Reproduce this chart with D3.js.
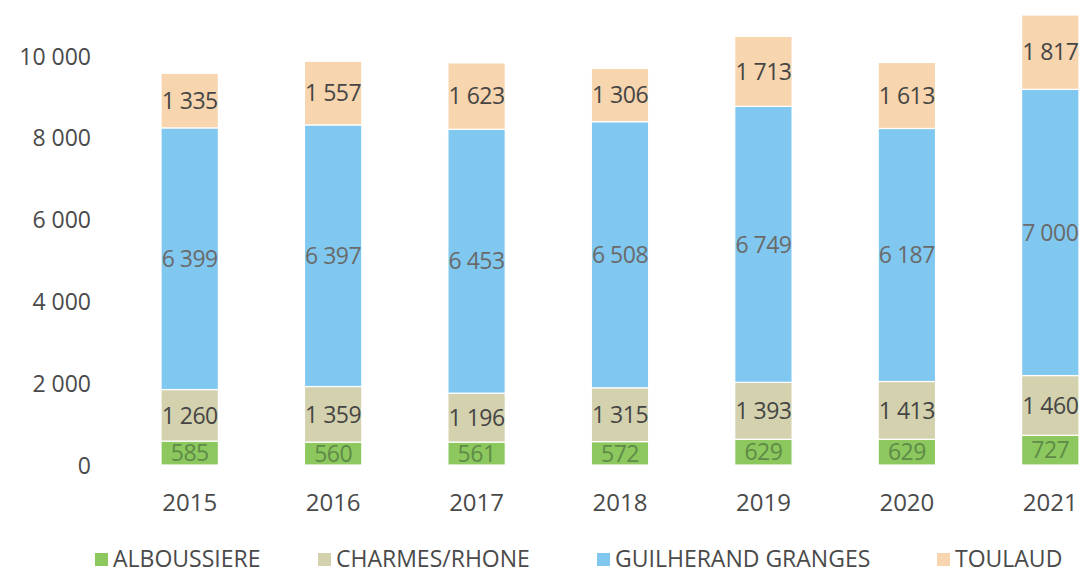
<!DOCTYPE html>
<html><head><meta charset="utf-8">
<script src="https://cdn.jsdelivr.net/npm/d3@7"></script>
<style>body{margin:0;background:#fff}svg{display:block}</style>
</head><body>
<svg id="c" width="1089" height="575"></svg>
<script>
const years = ["2015","2016","2017","2018","2019","2020","2021"];
const seriesNames = ["ALBOUSSIERE","CHARMES/RHONE","GUILHERAND GRANGES","TOULAUD"];
const alboussiere = [585,560,561,572,629,629,727];
const charmes = [1260,1359,1196,1315,1393,1413,1460];
const guilherand = [6399,6397,6453,6508,6749,6187,7000];
const toulaud = [1335,1557,1623,1306,1713,1613,1817];
const yTicks = [0,2000,4000,6000,8000,10000];
const colors = ["#8cc85e","#d4d2ae","#80c8f0","#f7d5ae"];
const labelColors = ["#5f8a48","#454545","#6a6a6a","#454545"];

const rows = years.map((y,i)=>({year:y,
  [seriesNames[0]]:alboussiere[i],[seriesNames[1]]:charmes[i],
  [seriesNames[2]]:guilherand[i],[seriesNames[3]]:toulaud[i]}));
const stack = d3.stack().keys(seriesNames)(rows);

const svg = d3.select("#c");
const font = "'Open Sans', sans-serif";
const x = d3.scaleBand().domain(years).range([118,1122]).paddingInner(0.6).paddingOuter(0.3);
const y = d3.scaleLinear().domain([0,11004]).range([465,15]);
const fmt = v => d3.format(",")(v).replace(/,/g," ");

// y axis labels
const ya = svg.append("g").attr("transform","translate(91,0)")
  .call(d3.axisLeft(y).tickValues(yTicks).tickSize(0).tickPadding(0).tickFormat(fmt));
ya.select(".domain").remove();
ya.selectAll("text").attr("font-family",font).attr("font-size",23).attr("fill","#4a4a4a").attr("dy","0.35em");

// bars
const g = svg.append("g");
stack.forEach((s,si)=>{
  g.selectAll(null).data(s).join("rect")
    .attr("x",d=>x(d.data.year)).attr("width",x.bandwidth())
    .attr("y",d=>y(d[1])).attr("height",d=>y(d[0])-y(d[1]))
    .attr("fill",colors[si]).attr("stroke","#fff").attr("stroke-width",1.2);
  g.selectAll(null).data(s).join("text")
    .attr("x",d=>x(d.data.year)+x.bandwidth()/2)
    .attr("y",d=>(y(d[0])+y(d[1]))/2).attr("dy","0.36em")
    .attr("text-anchor","middle").attr("font-family",font).attr("font-size",23)
    .attr("letter-spacing","-0.5")
    .attr("fill",labelColors[si])
    .text(d=>fmt(d[1]-d[0]));
});

// x axis labels
const xa = svg.append("g").attr("transform","translate(0,503)")
  .call(d3.axisBottom(x).tickSize(0).tickPadding(0));
xa.select(".domain").remove();
xa.selectAll("text").attr("font-family",font).attr("font-size",24).attr("fill","#4a4a4a").attr("dy","0.35em");

// legend
const legX = [95,318,597,937];
const lg = svg.append("g");
seriesNames.forEach((n,i)=>{
  lg.append("rect").attr("x",legX[i]).attr("y",553).attr("width",13).attr("height",13).attr("fill",colors[i]);
  lg.append("text").attr("x",legX[i]+18).attr("y",559).attr("dy","0.36em")
    .attr("font-family",font).attr("font-size",23).attr("fill","#4a4a4a").text(n);
});
</script>
</body></html>
